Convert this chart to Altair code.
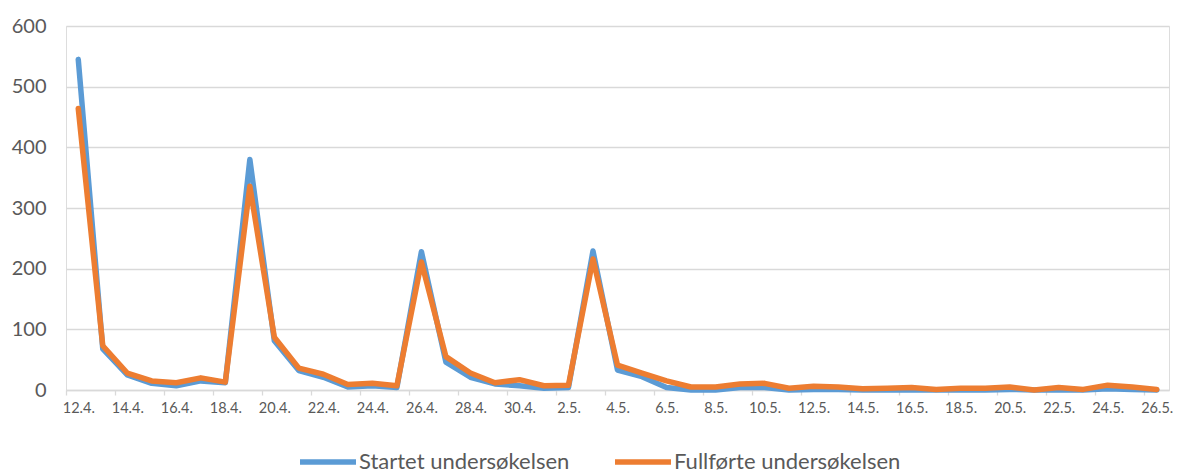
import json
import altair as alt
import pandas as pd

days = ["12.4.", "13.4.", "14.4.", "15.4.", "16.4.", "17.4.", "18.4.", "19.4.", "20.4.", "21.4.",
        "22.4.", "23.4.", "24.4.", "25.4.", "26.4.", "27.4.", "28.4.", "29.4.", "30.4.", "1.5.",
        "2.5.", "3.5.", "4.5.", "5.5.", "6.5.", "7.5.", "8.5.", "9.5.", "10.5.", "11.5.",
        "12.5.", "13.5.", "14.5.", "15.5.", "16.5.", "17.5.", "18.5.", "19.5.", "20.5.", "21.5.",
        "22.5.", "23.5.", "24.5.", "25.5.", "26.5."]

startet = [545, 68, 25, 11, 7, 15, 12, 380, 81, 32,
           21, 5, 7, 4, 228, 46, 21, 10, 7, 3,
           4, 229, 33, 22, 4, 0, 0, 4, 4, 0,
           1, 1, 0, 0, 0, 0, 0, 0, 1, 0,
           0, 0, 2, 1, 0]

fullforte = [464, 73, 28, 15, 12, 20, 13, 336, 87, 36,
             26, 9, 11, 7, 211, 55, 28, 12, 17, 7,
             8, 216, 41, 28, 15, 5, 5, 10, 11, 3,
             6, 5, 2, 3, 4, 1, 3, 3, 5, 0,
             4, 1, 8, 5, 1]

series_names = ["Startet undersøkelsen", "Fullførte undersøkelsen"]
series_colors = ["#5B9BD5", "#ED7D31"]
y_ticks = [0, 100, 200, 300, 400, 500, 600]

rows = []
for name, vals in zip(series_names, [startet, fullforte]):
    for i, v in enumerate(vals):
        rows.append({"i": i, "day": days[i], "value": v, "serie": name})
df = pd.DataFrame(rows)

W = 1103
n = len(days)
tick_vals = [k - 0.5 for k in range(0, n, 2)]
band_px = W / n

label_expr = json.dumps(days) + "[round(datum.value + 0.5)]"

color = alt.Color(
    "serie:N",
    scale=alt.Scale(domain=series_names, range=series_colors),
    legend=alt.Legend(
        title=None,
        orient="none",
        direction="horizontal",
        legendX=231,
        legendY=405,
        symbolType="stroke",
        symbolSize=3136,
        symbolStrokeWidth=5.5,
        labelFont="Lato",
        labelFontSize=22,
        labelColor="#595959",
        labelOffset=0,
        columnPadding=34,
        labelLimit=400,
    ),
)

x = alt.X(
    "i:Q",
    scale=alt.Scale(domain=[-0.5, n - 0.5], nice=False, zero=False),
    axis=alt.Axis(
        title=None,
        values=tick_vals,
        labelExpr=label_expr,
        labelOffset=band_px / 2,
        labelFlush=False,
        labelBound=False,
        labelOverlap=False,
        labelFont="Lato",
        labelFontSize=14.5,
        labelColor="#595959",
        labelPadding=6,
        grid=False,
        domainColor="#D9D9D9",
        domainWidth=1.3,
        tickColor="#D9D9D9",
        tickWidth=1.3,
        tickSize=5,
    ),
)

y = alt.Y(
    "value:Q",
    scale=alt.Scale(domain=[0, 600], nice=False),
    axis=alt.Axis(
        title=None,
        values=y_ticks,
        domain=False,
        ticks=False,
        labelFont="Lato",
        labelFontSize=20,
        labelColor="#595959",
        labelPadding=20,
        gridColor="#D9D9D9",
        gridWidth=1.3,
    ),
)

base = alt.Chart(df).mark_line(strokeWidth=5.5, strokeCap="round", strokeJoin="round")

blue = base.transform_filter(alt.datum.serie == series_names[0]).encode(
    x=x, y=y, color=color, order="i:Q"
)
orange = base.transform_filter(alt.datum.serie == series_names[1]).encode(
    x=x, y=y, color=color, order="i:Q"
)

chart = (
    alt.layer(blue, orange)
    .properties(
        width=W,
        height=364,
        autosize=alt.AutoSizeParams(type="none"),
        padding={"left": 58, "top": 18, "right": 4, "bottom": 84},
    )
    .configure_view(stroke=None)
    .configure(background="white")
)

chart.save("out.html", embed_options={"renderer": "svg", "actions": False})
